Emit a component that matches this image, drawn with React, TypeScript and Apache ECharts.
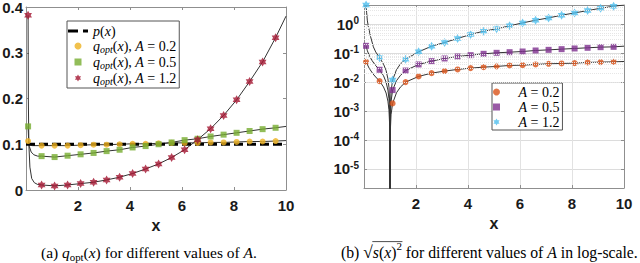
import React, { useEffect, useRef } from "react";
import * as echarts from "echarts";

// ---------- data ----------
const markerX = [0.08, 0.6, 1.1, 1.6, 2.1, 2.6, 3.1, 3.6, 4.1, 4.6, 5.1, 5.6, 6.1, 6.6, 7.1, 7.6, 8.1, 8.6, 9.1, 9.6];

// left panel: p(x) and q_opt(x)
const pX = [0, 10];
const pLevel = 0.1;
const qA02 = [0.107, 0.097, 0.097, 0.097, 0.098, 0.099, 0.099, 0.1, 0.101, 0.101, 0.102, 0.103, 0.103, 0.103, 0.104, 0.104, 0.105, 0.106, 0.106, 0.107];
const qA05 = [0.139, 0.074, 0.072, 0.075, 0.078, 0.081, 0.085, 0.088, 0.093, 0.096, 0.1, 0.104, 0.109, 0.112, 0.117, 0.121, 0.125, 0.129, 0.133, 0.136];
const qA12 = [0.382, 0.011, 0.009, 0.011, 0.014, 0.017, 0.022, 0.028, 0.036, 0.046, 0.057, 0.071, 0.088, 0.11, 0.134, 0.163, 0.197, 0.237, 0.28, 0.333];
// extra samples of the thin black curves (between / beyond the markers)
const qCurve02 = [[0.1, 0.103], [0.14, 0.099], [0.25, 0.097], [10, 0.108]];
const qCurve05 = [[0.1, 0.112], [0.13, 0.095], [0.2, 0.083], [0.3, 0.077], [0.45, 0.074], [10, 0.139]];
const qCurve12 = [[0.09, 0.2], [0.11, 0.1], [0.15, 0.05], [0.22, 0.025], [0.32, 0.016], [0.45, 0.012], [10, 0.38]];

// right panel: sqrt(s(x)^2), log scale
const sA02 = [0.05, 0.0108, 0.00184, 0.01, 0.0157, 0.0204, 0.024, 0.0274, 0.0304, 0.0329, 0.0347, 0.0376, 0.0385, 0.0407, 0.0429, 0.0441, 0.0452, 0.0479, 0.049, 0.05];
const sA05 = [0.179, 0.0266, 0.0053, 0.0251, 0.0407, 0.053, 0.0655, 0.0767, 0.0853, 0.0948, 0.1026, 0.108, 0.114, 0.1236, 0.13, 0.1374, 0.145, 0.153, 0.161, 0.165];
const sA12 = [4.6, 0.069, 0.0117, 0.062, 0.111, 0.174, 0.233, 0.321, 0.441, 0.574, 0.69, 0.877, 1.11, 1.37, 1.65, 2.04, 2.45, 2.95, 3.55, 4.17];
const sCurve02 = [[0.2, 0.03], [0.35, 0.019], [0.45, 0.015], [0.75, 0.0068], [0.85, 0.0042], [0.92, 0.0022], [0.96, 0.0011], [0.99, 2.8e-4], [0.999, 2.8e-5], [0.9999, 2.8e-6], [1, 1e-9], [1.0001, 1.8e-6], [1.001, 1.8e-5], [1.01, 1.8e-4], [1.04, 7.4e-4], [1.25, 0.0043], [1.4, 0.0067], [10, 0.0516]];
const sCurve05 = [[0.13, 0.12], [0.2, 0.085], [0.3, 0.057], [0.45, 0.037], [0.75, 0.0166], [0.85, 0.01], [0.92, 0.0053], [0.96, 0.0027], [0.99, 6.6e-4], [0.999, 6.6e-5], [0.9999, 6.6e-6], [1, 1e-9], [1.0001, 5.3e-6], [1.001, 5.3e-5], [1.01, 5.3e-4], [1.04, 0.0021], [1.25, 0.0112], [1.4, 0.017], [10, 0.174]];
const sCurve12 = [[0.1, 2.6], [0.13, 1.3], [0.17, 0.81], [0.25, 0.38], [0.36, 0.165], [0.45, 0.11], [0.75, 0.042], [0.85, 0.025], [0.92, 0.013], [0.96, 0.0066], [0.99, 0.0017], [0.999, 1.7e-4], [0.9999, 1.7e-5], [1, 1e-9], [1.0001, 1.2e-5], [1.001, 1.2e-4], [1.01, 1.17e-3], [1.04, 0.0047], [1.25, 0.027], [1.4, 0.042], [10, 4.6]];

// axes
const xMin = 0, xMax = 10, xStep = 2;
const qMin = 0, qMax = 0.4, qStep = 0.1;
const sMin = 2.2e-6, sMax = 4.6;
const minorDecades = [-6, -5, -4, -3, -2, -1, 0];
const minorMultipliers = [2, 3, 4, 5, 6, 7, 8, 9];

// ---------- styling ----------
const SERIF = '"Liberation Serif", "Times New Roman", serif';
const SANS = '"Liberation Sans", Arial, sans-serif';
const HEX = "path://M0,-10L2.887,-5L8.66,-5L5.774,0L8.66,5L2.887,5L0,10L-2.887,5L-8.66,5L-5.774,0L-8.66,-5L-2.887,-5Z";
const SQUARE_ICON = "path://M0,0h10v10h-10z";
const DASH_ICON = "path://M0,0h10v3h-10z M15,0h5v3h-5z";
const AXIS_COLOR = "#8f8f8f";
const LABEL_COLOR = "#1a1a1a";

const pairs = (xs: number[], ys: number[]) => xs.map((x, i) => [x, ys[i]]);
const merge = (a: number[][], b: number[][]) => [...a, ...b].sort((p, q) => p[0] - q[0]);

const legendText: Record<string, string> = {
  "p(x)": "{i|p}{n|(}{i|x}{n|)}",
  qA02: "{i|q}{sub|opt}{n|(}{i|x}{n|), }{i|A}{n| = 0.2}",
  qA05: "{i|q}{sub|opt}{n|(}{i|x}{n|), }{i|A}{n| = 0.5}",
  qA12: "{i|q}{sub|opt}{n|(}{i|x}{n|), }{i|A}{n| = 1.2}",
  sA02: "{pad| }{i|A}{n| = 0.2}",
  sA05: "{pad| }{i|A}{n| = 0.5}",
  sA12: "{pad| }{i|A}{n| = 1.2}",
};

type Seg = { t: string; it?: boolean; sc?: number; dy?: number; over?: boolean };
const capA: Seg[] = [
  { t: "(a) " }, { t: "q", it: true }, { t: "opt", sc: 0.7, dy: 0.3 }, { t: "(" }, { t: "x", it: true },
  { t: ") for different values of " }, { t: "A", it: true }, { t: "." },
];
const capB: Seg[] = [
  { t: "(b) " }, { t: "\u221A", sc: 1.1, dy: 0.02 }, { t: "s", it: true, over: true }, { t: "(", over: true },
  { t: "x", it: true, over: true }, { t: ")", over: true }, { t: "2", sc: 0.7, dy: -0.38, over: true },
  { t: " for different values of " }, { t: "A", it: true }, { t: " in log-scale." },
];

function captionGraphics(segs: Seg[], x0: number, width: number, yMid: number) {
  const ctx = document.createElement("canvas").getContext("2d")!;
  const measure = (s: Seg, size: number) => {
    ctx.font = `${s.it ? "italic " : ""}${size * (s.sc ?? 1)}px ${SERIF}`;
    return ctx.measureText(s.t).width;
  };
  const total12 = segs.reduce((acc, s) => acc + measure(s, 12), 0);
  const size = (12 * width) / total12;
  const els: any[] = [];
  let x = x0;
  let ox1 = -1, ox2 = -1;
  for (const s of segs) {
    const w = measure(s, size);
    els.push({
      type: "text",
      x,
      y: yMid + (s.dy ?? 0) * size,
      style: {
        text: s.t,
        fontFamily: SERIF,
        fontSize: size * (s.sc ?? 1),
        fontStyle: s.it ? "italic" : "normal",
        fill: "#000",
        align: "left",
        verticalAlign: "middle",
      },
    });
    if (s.over) {
      if (ox1 < 0) ox1 = x;
      ox2 = x + w;
    }
    x += w;
  }
  if (ox1 >= 0) {
    const yl = yMid - 0.66 * size;
    els.push({ type: "line", shape: { x1: ox1 - 0.5, y1: yl, x2: ox2 + 0.5, y2: yl }, style: { stroke: "#000", lineWidth: 0.7 } });
  }
  return els;
}

export default function App() {
  const ref = useRef<HTMLDivElement>(null);
  useEffect(() => {
    if (!ref.current) return;
    const chart = echarts.init(ref.current, undefined, { renderer: "svg" });

    const tickLabel = { fontFamily: SANS, fontWeight: "bold" as const, fontSize: 15, color: LABEL_COLOR };
    const axisLine = { show: true, onZero: false, lineStyle: { color: AXIS_COLOR, width: 1 } };
    const axisTick = { show: true, inside: true, length: 3, lineStyle: { color: AXIS_COLOR } };
    const xName = {
      name: "x",
      nameLocation: "middle" as const,
      nameGap: 27,
      nameTextStyle: { fontFamily: SANS, fontWeight: "bold" as const, fontSize: 16, color: LABEL_COLOR },
    };

    const minorY: number[] = [];
    minorDecades.forEach((d) => minorMultipliers.forEach((m) => {
      const v = m * Math.pow(10, d);
      if (v > sMin && v < sMax) minorY.push(v);
    }));

    const richLegend = {
      i: { fontFamily: SERIF, fontStyle: "italic" as const, fontSize: 14, lineHeight: 16, color: "#000" },
      n: { fontFamily: SERIF, fontSize: 14, lineHeight: 16, color: "#000" },
      sub: { fontFamily: SERIF, fontStyle: "italic" as const, fontSize: 10, lineHeight: 10, verticalAlign: "bottom" as const, color: "#000" },
      pad: { width: 12, fontSize: 14, lineHeight: 16 },
    };
    const legendCommon = {
      orient: "vertical" as const,
      itemHeight: 7,
      itemGap: 1,
      backgroundColor: "#fff",
      borderColor: "#555",
      borderWidth: 1,
      selectedMode: false,
      symbolKeepAspect: true,
      formatter: (n: string) => legendText[n],
      textStyle: { fontFamily: SERIF, fontSize: 14, color: "#000", rich: richLegend },
    };

    const option: any = {
      animation: false,
      backgroundColor: "#fff",
      grid: [
        { left: 26, top: 7, width: 260, height: 183, outerBoundsMode: "none", containLabel: false },
        { left: 364, top: 5, width: 260, height: 183, outerBoundsMode: "none", containLabel: false },
      ],
      xAxis: [
        { gridIndex: 0, type: "value", min: xMin, max: xMax, interval: xStep, position: "bottom", axisLine, axisTick,
          axisLabel: { ...tickLabel, margin: 8, formatter: (v: number) => (v === 0 ? "" : String(v)) },
          splitLine: { show: false }, ...xName },
        { gridIndex: 0, type: "value", min: xMin, max: xMax, interval: xStep, position: "top", axisLine, axisTick,
          axisLabel: { show: false }, splitLine: { show: false } },
        { gridIndex: 1, type: "value", min: xMin, max: xMax, interval: xStep, position: "bottom", axisLine, axisTick,
          axisLabel: { ...tickLabel, margin: 8, formatter: (v: number) => (v === 0 ? "" : String(v)) },
          splitLine: { show: true, lineStyle: { color: "#e2e2e2", width: 1 } }, ...xName },
        { gridIndex: 1, type: "value", min: xMin, max: xMax, interval: xStep, position: "top", axisLine, axisTick,
          axisLabel: { show: false }, splitLine: { show: false } },
      ],
      yAxis: [
        { gridIndex: 0, type: "value", min: qMin, max: qMax, interval: qStep, position: "left", axisLine, axisTick,
          axisLabel: { ...tickLabel, margin: 3 }, splitLine: { show: false } },
        { gridIndex: 0, type: "value", min: qMin, max: qMax, interval: qStep, position: "right", axisLine, axisTick,
          axisLabel: { show: false }, splitLine: { show: false } },
        { gridIndex: 1, type: "log", logBase: 10, min: sMin, max: sMax, position: "left", axisLine, axisTick,
          axisLabel: {
            margin: 5, showMinLabel: false, showMaxLabel: false,
            formatter: (v: number) => `{b|10}{s|${Math.round(Math.log10(v))}}`,
            rich: {
              b: { fontFamily: SANS, fontWeight: "bold", fontSize: 15, lineHeight: 17, color: LABEL_COLOR },
              s: { fontFamily: SANS, fontWeight: "bold", fontSize: 10, lineHeight: 10, verticalAlign: "top", color: LABEL_COLOR },
            },
          },
          splitLine: { show: true, lineStyle: { color: "#dcdcdc", width: 1 } } },
        { gridIndex: 1, type: "log", logBase: 10, min: sMin, max: sMax, position: "right", axisLine, axisTick,
          axisLabel: { show: false }, splitLine: { show: false } },
      ],
      legend: [
        { ...legendCommon,
          data: [
            { name: "p(x)", icon: DASH_ICON, itemStyle: { color: "#000" } },
            { name: "qA02", icon: "circle" },
            { name: "qA05", icon: SQUARE_ICON },
            { name: "qA12", icon: HEX },
          ],
          left: 67, top: 21, padding: [3, 3, 2, 1], itemWidth: 20 },
        { ...legendCommon,
          data: [
            { name: "sA02", icon: "circle" },
            { name: "sA05", icon: SQUARE_ICON },
            { name: "sA12", icon: HEX },
          ],
          left: 492, top: 83, padding: [2, 3, 1, 1], itemWidth: 10 },
      ],
      series: [
        // minor log grid (dotted)
        { type: "line", name: "minorGrid", xAxisIndex: 2, yAxisIndex: 2, data: [], silent: true, z: 1,
          markLine: { silent: true, symbol: "none", label: { show: false },
            lineStyle: { color: "#e6e6e6", type: "dotted", width: 1 },
            data: minorY.map((v) => ({ yAxis: v })) } },
        // left panel
        { type: "line", name: "c02", xAxisIndex: 0, yAxisIndex: 0, data: merge(pairs(markerX, qA02), qCurve02), symbol: "none", silent: true, lineStyle: { color: "#333", width: 1 }, z: 2 },
        { type: "line", name: "c05", xAxisIndex: 0, yAxisIndex: 0, data: merge(pairs(markerX, qA05), qCurve05), symbol: "none", silent: true, lineStyle: { color: "#333", width: 1 }, z: 2 },
        { type: "line", name: "c12", xAxisIndex: 0, yAxisIndex: 0, data: merge(pairs(markerX, qA12), qCurve12), symbol: "none", silent: true, lineStyle: { color: "#333", width: 1 }, z: 2 },
        { type: "line", name: "p(x)", xAxisIndex: 0, yAxisIndex: 0, data: pX.map((x) => [x, pLevel]), symbol: "none", lineStyle: { color: "#000", width: 3, type: [9, 4] }, itemStyle: { color: "#000" }, z: 3 },
        { type: "scatter", name: "qA02", xAxisIndex: 0, yAxisIndex: 0, data: pairs(markerX, qA02), symbol: "circle", symbolSize: 6, itemStyle: { color: "#EDB120" }, z: 4 },
        { type: "scatter", name: "qA05", xAxisIndex: 0, yAxisIndex: 0, data: pairs(markerX, qA05), symbol: "rect", symbolSize: 6, itemStyle: { color: "#77AC30" }, z: 4 },
        { type: "scatter", name: "qA12", xAxisIndex: 0, yAxisIndex: 0, data: pairs(markerX, qA12), symbol: HEX, symbolKeepAspect: true, symbolSize: 9, itemStyle: { color: "#A2142F" }, z: 4 },
        // right panel
        { type: "line", name: "d02", xAxisIndex: 2, yAxisIndex: 2, data: merge(pairs(markerX, sA02), sCurve02), symbol: "none", silent: true, lineStyle: { color: "#333", width: 1 }, z: 2 },
        { type: "line", name: "d05", xAxisIndex: 2, yAxisIndex: 2, data: merge(pairs(markerX, sA05), sCurve05), symbol: "none", silent: true, lineStyle: { color: "#333", width: 1 }, z: 2 },
        { type: "line", name: "d12", xAxisIndex: 2, yAxisIndex: 2, data: merge(pairs(markerX, sA12), sCurve12), symbol: "none", silent: true, lineStyle: { color: "#333", width: 1 }, z: 2 },
        { type: "scatter", name: "sA02", xAxisIndex: 2, yAxisIndex: 2, data: pairs(markerX, sA02), symbol: "circle", symbolSize: 6, itemStyle: { color: "#D95319" }, z: 4 },
        { type: "scatter", name: "sA05", xAxisIndex: 2, yAxisIndex: 2, data: pairs(markerX, sA05), symbol: "rect", symbolSize: 6, itemStyle: { color: "#7E2F8E" }, z: 4 },
        { type: "scatter", name: "sA12", xAxisIndex: 2, yAxisIndex: 2, data: pairs(markerX, sA12), symbol: HEX, symbolKeepAspect: true, symbolSize: 9, itemStyle: { color: "#4DBEEE" }, z: 4 },
      ],
      graphic: [
        ...captionGraphics(capA, 41, 216, 252),
        ...captionGraphics(capB, 341, 297, 252),
      ],
    };

    chart.setOption(option);
    return () => chart.dispose();
  }, []);

  return <div ref={ref} style={{ position: "fixed", left: 0, top: 0, width: 640, height: 263, background: "#fff" }} />;
}
